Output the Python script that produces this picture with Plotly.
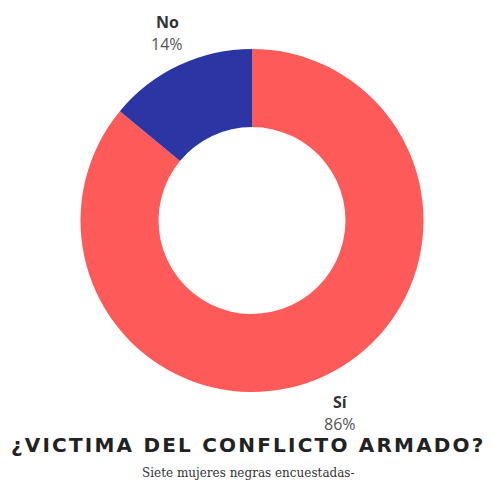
import plotly.graph_objects as go

labels = ["Sí", "No"]
values = [86, 14]
colors = ["#FF5A5A", "#2B35A3"]
title_text = "¿VICTIMA DEL CONFLICTO ARMADO?"
subtitle_text = "Siete mujeres negras encuestadas-"

W, H = 493, 483
cx, cy, r = 252, 220.5, 171.5

fig = go.Figure(go.Pie(
    labels=labels, values=values, hole=0.545, sort=False,
    direction="clockwise", rotation=0,
    marker=dict(colors=colors, line=dict(width=0)),
    textinfo="none", hoverinfo="label+percent", showlegend=False,
    domain=dict(x=[(cx - r) / W, (cx + r) / W], y=[1 - (cy + r) / H, 1 - (cy - r) / H]),
))

total = sum(values)
label_pos = {"No": (167, 22), "Sí": (340, 402)}
for lab, val in zip(labels, values):
    x, y = label_pos[lab]
    fig.add_annotation(x=x / W, y=1 - y / H, xref="paper", yref="paper", showarrow=False,
                       xanchor="center", yanchor="middle",
                       text=f"<b>{lab}</b>", font=dict(family="Open Sans", size=16, color="#333333"))
    fig.add_annotation(x=x / W, y=1 - (y + 22) / H, xref="paper", yref="paper", showarrow=False,
                       xanchor="center", yanchor="middle",
                       text=f"{round(100 * val / total)}%", font=dict(family="Open Sans", size=16, color="#555555"))

fig.add_annotation(x=248 / W, y=1 - 445 / H, xref="paper", yref="paper", showarrow=False,
                   xanchor="center", yanchor="middle",
                   text=f"<b>{title_text}</b>", font=dict(family="DejaVu Sans", size=20, color="#222222"))
fig.add_annotation(x=248 / W, y=1 - 473 / H, xref="paper", yref="paper", showarrow=False,
                   xanchor="center", yanchor="middle",
                   text=subtitle_text, font=dict(family="DejaVu Serif", size=12, color="#333333"))

fig.update_layout(width=W, height=H, margin=dict(l=0, r=0, t=0, b=0),
                  paper_bgcolor="white", plot_bgcolor="white")

post = """
var s = document.createElement('style');
s.textContent = 'g.annotation[data-index="4"] text { letter-spacing: 2.2px; }';
document.head.appendChild(s);
"""
fig.write_html("out.html", post_script=post)
